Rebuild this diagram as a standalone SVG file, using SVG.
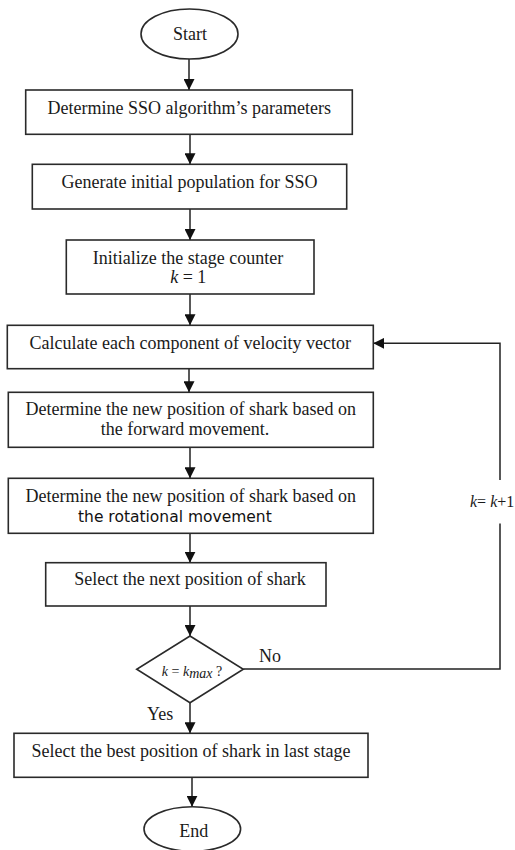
<svg xmlns="http://www.w3.org/2000/svg" width="515" height="850" viewBox="0 0 515 850">
<defs>
<marker id="ah" markerWidth="11" markerHeight="11" viewBox="0 0 11 11" refX="11" refY="5.5" orient="auto" markerUnits="userSpaceOnUse">
<path d="M0,0 L11,5.5 L0,11 Z" fill="#111"/>
</marker>
<style>
.b{fill:#fff;stroke:#2a2a2a;stroke-width:1.6}
.t{font-family:"Liberation Serif","Times New Roman",serif;font-size:18px;fill:#1a1a1a;text-anchor:middle}
.s{font-family:"DejaVu Sans",sans-serif;font-size:15.5px;fill:#111}
.i{font-style:italic}
.c{fill:none;stroke:#222;stroke-width:1.5}
</style>
</defs>
<rect width="515" height="850" fill="#fff"/>
<g id="connectors">
<line class="c" x1="189" y1="59" x2="189" y2="90" marker-end="url(#ah)"/>
<line class="c" x1="190" y1="134.5" x2="190" y2="164.3" marker-end="url(#ah)"/>
<line class="c" x1="190" y1="209" x2="190" y2="240" marker-end="url(#ah)"/>
<line class="c" x1="190" y1="294" x2="190" y2="325.3" marker-end="url(#ah)"/>
<line class="c" x1="189" y1="368.7" x2="189" y2="392.3" marker-end="url(#ah)"/>
<line class="c" x1="190" y1="447.3" x2="190" y2="478.3" marker-end="url(#ah)"/>
<line class="c" x1="190" y1="533.3" x2="190" y2="562.7" marker-end="url(#ah)"/>
<line class="c" x1="190" y1="606" x2="190" y2="636" marker-end="url(#ah)"/>
<line class="c" x1="190" y1="702.7" x2="190" y2="733.3" marker-end="url(#ah)"/>
<line class="c" x1="192" y1="777.3" x2="192" y2="806.7" marker-end="url(#ah)"/>
<polyline class="c" points="243.3,669 500,669 500,523.5"/>
<polyline class="c" points="500,480 500,343.3 373.3,343.3" marker-end="url(#ah)"/>
<text class="t" x="259" y="662" style="text-anchor:start">No</text>
<text class="t" x="147" y="720" style="text-anchor:start">Yes</text>
<text class="t" x="470" y="507" style="text-anchor:start;font-size:16px"><tspan class="i">k</tspan>= <tspan class="i">k</tspan>+1</text>
</g>
<g id="start">
<ellipse class="b" cx="189.5" cy="34" rx="48.5" ry="25"/>
<text class="t" x="190" y="40">Start</text>
</g>
<g id="params">
<rect class="b" x="25.7" y="90" width="326.6" height="44.3"/>
<text class="t" x="189.2" y="114">Determine SSO algorithm’s parameters</text>
</g>
<g id="population">
<rect class="b" x="32.3" y="164.3" width="314.4" height="44.7"/>
<text class="t" x="189.5" y="188">Generate initial population for SSO</text>
</g>
<g id="init">
<rect class="b" x="66.3" y="240" width="247.7" height="54"/>
<text class="t" x="188" y="263.5">Initialize the stage counter</text>
<text class="t" x="188.3" y="282.5"><tspan class="i">k</tspan> = 1</text>
</g>
<g id="velocity">
<rect class="b" x="7.3" y="325.3" width="366" height="43.4"/>
<text class="t" x="190.3" y="348.5">Calculate each component of velocity vector</text>
</g>
<g id="forward">
<rect class="b" x="8.3" y="392.3" width="365" height="55"/>
<text class="t" x="190.8" y="415">Determine the new position of shark based on</text>
<text class="t" x="185" y="435">the forward movement.</text>
</g>
<g id="rotational">
<rect class="b" x="8.3" y="478.3" width="365" height="55"/>
<text class="t" x="190.8" y="502">Determine the new position of shark based on</text>
<text class="s" x="78" y="522">the rotational movement</text>
</g>
<g id="select-next">
<rect class="b" x="45.7" y="562.7" width="280.3" height="43.3"/>
<text class="t" x="190" y="584.5">Select the next position of shark</text>
</g>
<g id="decision">
<polygon class="b" points="190,636 243.3,669.3 190,702.7 136.7,669.3"/>
<text class="t" x="192" y="676" style="font-size:14px"><tspan class="i">k</tspan> = <tspan class="i">k</tspan><tspan class="i" dy="2" style="font-size:14px">max</tspan><tspan dy="-2"> ?</tspan></text>
</g>
<g id="select-best">
<rect class="b" x="14" y="733.3" width="354" height="44"/>
<text class="t" x="191" y="757">Select the best position of shark in last stage</text>
</g>
<g id="end">
<ellipse class="b" cx="192.3" cy="829" rx="48.3" ry="22.3"/>
<text class="t" x="193.7" y="837">End</text>
</g>
</svg>
